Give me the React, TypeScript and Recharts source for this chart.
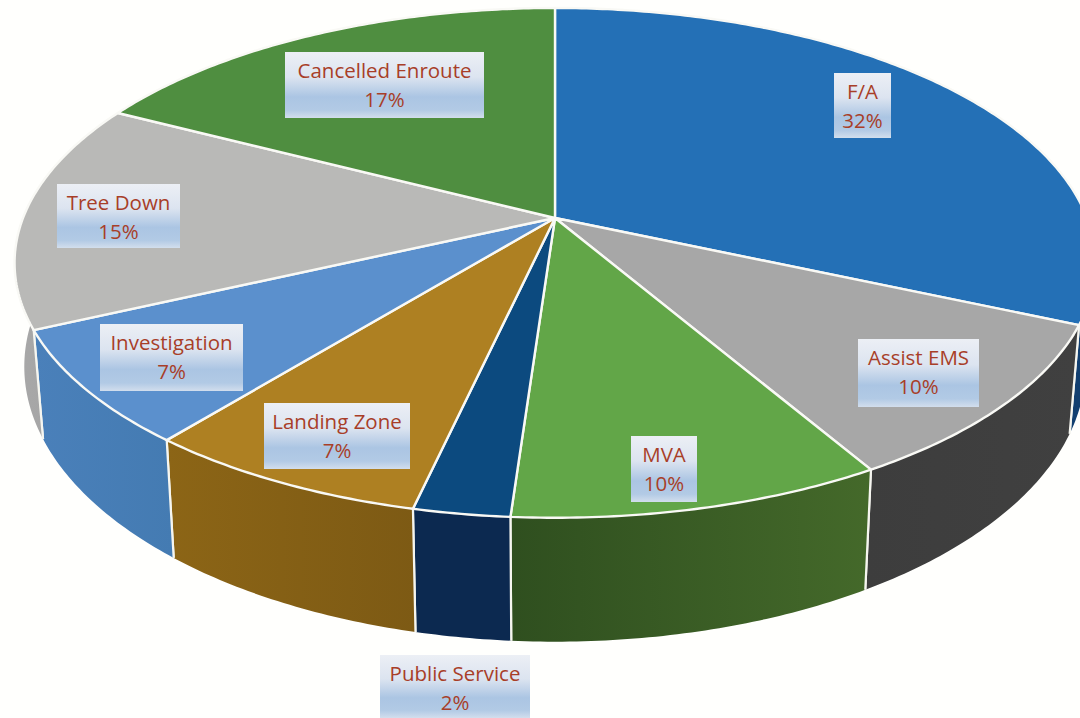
import React from "react";
import { PieChart, Pie, Cell } from "recharts";

// Category names and the percent captions printed on the chart
const categories = ["F/A", "Assist EMS", "MVA", "Public Service", "Landing Zone", "Investigation", "Tree Down", "Cancelled Enroute"];
const captions = ["32%", "10%", "10%", "2%", "7%", "7%", "15%", "17%"];
// Slice sizes as drawn in the picture
const shares = [31.6, 10, 9.5, 2.45, 7.3, 7.25, 14.5, 17.4];

// Styles
const topColors = ["#2470b6", "#a7a7a7", "#62a648", "#0c4a7f", "#ae8022", "#5b90cd", "#b9b9b7", "#4f8e40"];
const wallFrom = ["#123f70", "#3d3d3d", "#2f4f1f", "#0c2950", "#8c6516", "#4a80ba", "#a8a8a8", "#3a6a30"];
const wallTo = ["#123f70", "#404040", "#44692a", "#0c2950", "#7d5a14", "#447bb2", "#a0a0a0", "#3a6a30"];
const labelBoxes = [
  [834, 73, 57, 65], [858, 339, 121, 68], [631, 436, 66, 66], [380, 655, 150, 63],
  [264, 403, 146, 66], [100, 324, 143, 67], [57, 184, 123, 64], [285, 52, 199, 66],
];

const rows = categories.map((name, i) => ({ name, value: shares[i], caption: captions[i] }));

const CX = 555;
const CY = 218;
const RADIUS = 532;
const B = 247;
const K = 0.176;

// Perspective view of a library polar angle on the flat disc
function project(deg: number, cx: number, cy: number, r: number) {
  const phi = ((90 - deg) * Math.PI) / 180;
  const u = Math.sin(phi);
  const v = -Math.cos(phi);
  const d = 1 - K * v;
  return { x: cx + (r * u) / d, y: cy + ((r * B) / RADIUS) * (v / d) };
}
const drop = (p: { x: number; y: number }, cx: number) => ({ x: cx + 0.982 * (p.x - cx), y: p.y * 1.079 + 83 });

function arc(start: number, end: number, cx: number, cy: number, r: number) {
  const n = Math.max(4, Math.ceil(Math.abs(end - start) * 1.5));
  const pts = [];
  for (let i = 0; i <= n; i++) pts.push(project(start + ((end - start) * i) / n, cx, cy, r));
  return pts;
}
const path = (pts: { x: number; y: number }[]) => pts.map((p, i) => `${i ? "L" : "M"}${p.x.toFixed(2)},${p.y.toFixed(2)}`).join(" ");

const indexOf = (props: any) => categories.indexOf(props.name ?? props.payload?.name);

function TopFace(props: any) {
  const i = indexOf(props);
  const pts = arc(props.startAngle, props.endAngle, props.cx, props.cy, props.outerRadius);
  return <path d={`M${props.cx},${props.cy} ${path(pts).replace("M", "L")} Z`} fill={topColors[i]} stroke="#f9f9f5" strokeWidth={2.4} strokeLinejoin="round" />;
}

function WallFace(props: any) {
  const i = indexOf(props);
  const top = arc(props.startAngle, props.endAngle, props.cx, props.cy, props.outerRadius);
  const bottom = top.map((p) => drop(p, props.cx));
  const outline = [...top, ...bottom.slice().reverse()];
  const a = top[0], b = bottom[0], c = top[top.length - 1], d = bottom[bottom.length - 1];
  return (
    <g>
      <path d={path(outline) + " Z"} fill={`url(#wall${i})`} />
      <path d={`M${a.x},${a.y} L${b.x},${b.y} M${c.x},${c.y} L${d.x},${d.y}`} stroke="#f6f6f0" strokeWidth={2.2} fill="none" />
    </g>
  );
}

function renderLabel(props: any) {
  const i = indexOf(props);
  const [x, y, w, h] = labelBoxes[i];
  const mid = x + w / 2;
  return (
    <g key={categories[i]}>
      <rect x={x} y={y} width={w} height={h} fill="url(#labelFill)" />
      <text x={mid} y={y + 26} textAnchor="middle" fontFamily="'Open Sans', sans-serif" fontSize={20.5} fill="#a83e28">{categories[i]}</text>
      <text x={mid} y={y + 55} textAnchor="middle" fontFamily="'Open Sans', sans-serif" fontSize={20.5} fill="#a83e28">{captions[i]}</text>
    </g>
  );
}

export default function App() {
  return (
    <div style={{ position: "absolute", left: 0, top: 0, width: 1080, height: 718, overflow: "hidden", background: "#fffffd" }}>
      <PieChart width={1080} height={718} margin={{ top: 0, right: 0, bottom: 0, left: 0 }}>
        <defs>
          <linearGradient id="labelFill" x1="0" y1="0" x2="0" y2="1">
            <stop offset="0" stopColor="#eceff5" />
            <stop offset="0.38" stopColor="#dce4f0" />
            <stop offset="0.68" stopColor="#abc5e3" />
            <stop offset="0.88" stopColor="#b2cae5" />
            <stop offset="1" stopColor="#d2deed" />
          </linearGradient>
          {categories.map((c, i) => (
            <linearGradient key={c} id={`wall${i}`} x1="0" y1="0" x2="1" y2="0">
              <stop offset="0" stopColor={wallFrom[i]} />
              <stop offset="1" stopColor={wallTo[i]} />
            </linearGradient>
          ))}
        </defs>
        <Pie data={rows} dataKey="value" nameKey="name" cx={CX} cy={CY} outerRadius={RADIUS} startAngle={90} endAngle={-270}
          shape={WallFace} isAnimationActive={false} label={false} labelLine={false} stroke="none">
          {rows.map((r) => <Cell key={r.name} />)}
        </Pie>
        <Pie data={rows} dataKey="value" nameKey="name" cx={CX} cy={CY} outerRadius={RADIUS} startAngle={90} endAngle={-270}
          shape={TopFace} isAnimationActive={false} label={renderLabel} labelLine={false} stroke="none">
          {rows.map((r) => <Cell key={r.name} />)}
        </Pie>
      </PieChart>
    </div>
  );
}
